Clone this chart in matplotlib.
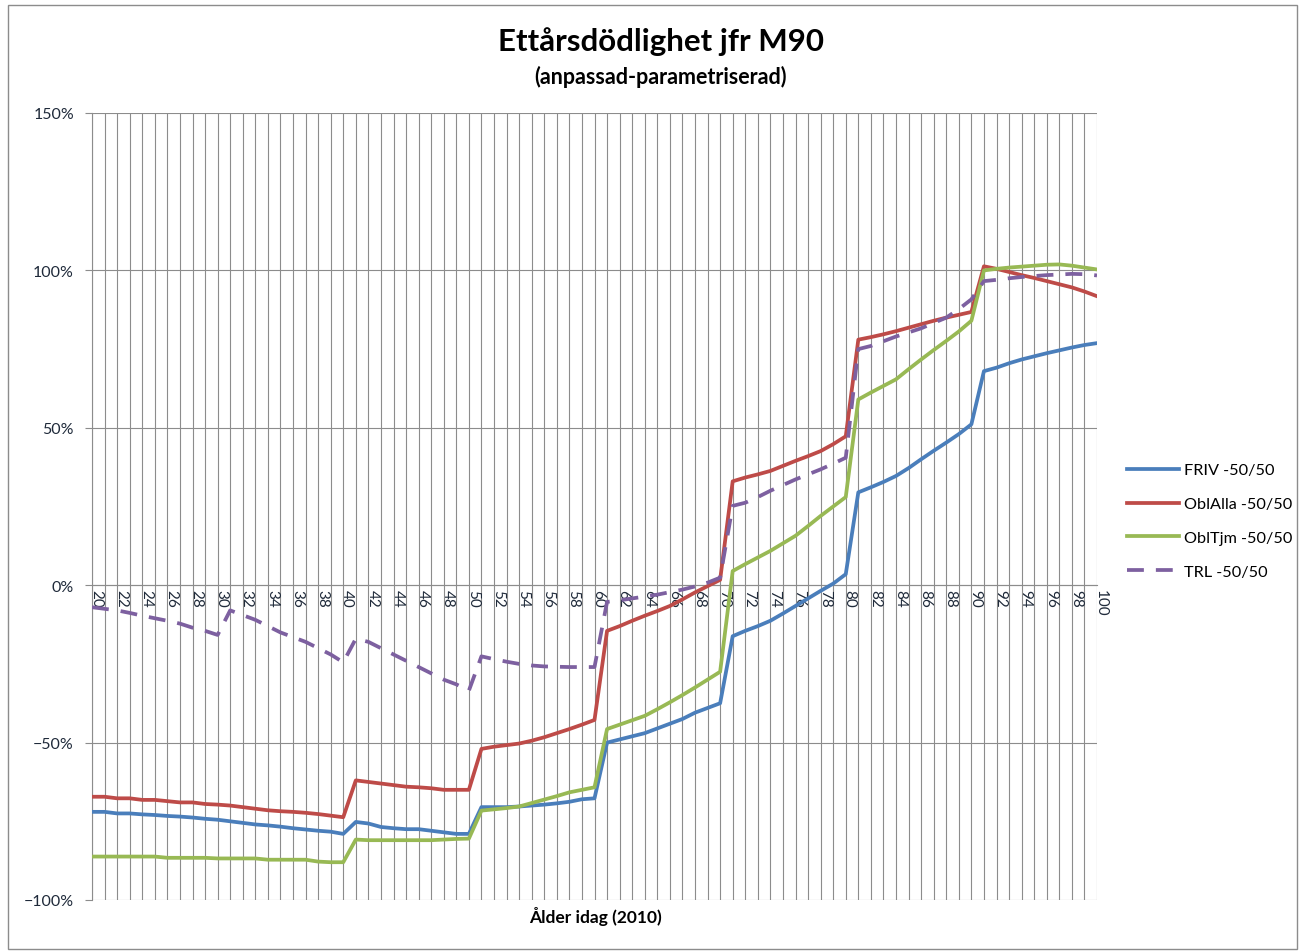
import matplotlib
matplotlib.use("Agg")
import matplotlib.pyplot as plt
from matplotlib.patches import Rectangle
from matplotlib.ticker import PercentFormatter
from matplotlib.transforms import ScaledTranslation

plt.rcParams['font.family'] = ['Lato', 'DejaVu Sans']

ages = list(range(20, 101))

friv = [-0.720, -0.720, -0.725, -0.725, -0.728, -0.730, -0.733, -0.735, -0.738, -0.742, -0.745,
        -0.750, -0.755, -0.760, -0.763, -0.767, -0.772, -0.776, -0.780, -0.783, -0.790,
        -0.752, -0.757, -0.768, -0.772, -0.775, -0.775, -0.780, -0.785, -0.790, -0.790,
        -0.705, -0.705, -0.705, -0.703, -0.700, -0.697, -0.693, -0.688, -0.680, -0.677,
        -0.500, -0.490, -0.480, -0.470, -0.455, -0.440, -0.425, -0.405, -0.390, -0.375,
        -0.162, -0.145, -0.130, -0.113, -0.090, -0.066, -0.042, -0.018, 0.005, 0.035,
        0.295, 0.311, 0.328, 0.347, 0.372, 0.400, 0.427, 0.453, 0.480, 0.511,
        0.680, 0.691, 0.705, 0.717, 0.727, 0.737, 0.746, 0.755, 0.763, 0.769]

oblalla = [-0.672, -0.672, -0.677, -0.677, -0.682, -0.682, -0.686, -0.690, -0.690, -0.695, -0.697,
           -0.700, -0.705, -0.710, -0.715, -0.718, -0.720, -0.723, -0.727, -0.732, -0.737,
           -0.620, -0.625, -0.630, -0.635, -0.640, -0.642, -0.645, -0.650, -0.650, -0.650,
           -0.520, -0.513, -0.508, -0.503, -0.494, -0.483, -0.470, -0.457, -0.443, -0.428,
           -0.145, -0.130, -0.113, -0.097, -0.082, -0.066, -0.045, -0.023, -0.003, 0.017,
           0.330, 0.342, 0.352, 0.363, 0.379, 0.395, 0.410, 0.426, 0.448, 0.473,
           0.780, 0.788, 0.797, 0.807, 0.818, 0.829, 0.840, 0.850, 0.859, 0.868,
           1.013, 1.005, 0.995, 0.985, 0.976, 0.966, 0.956, 0.946, 0.933, 0.918]

obltjm = [-0.862, -0.862, -0.862, -0.862, -0.862, -0.862, -0.866, -0.866, -0.866, -0.866,
          -0.868, -0.868, -0.868, -0.868, -0.872, -0.872, -0.872, -0.872, -0.878, -0.880, -0.880,
          -0.808, -0.810, -0.810, -0.810, -0.810, -0.810, -0.810, -0.808, -0.806, -0.805,
          -0.716, -0.712, -0.708, -0.703, -0.692, -0.681, -0.670, -0.658, -0.650, -0.642,
          -0.457, -0.443, -0.429, -0.415, -0.394, -0.372, -0.349, -0.325, -0.300, -0.275,
          0.045, 0.067, 0.088, 0.109, 0.133, 0.157, 0.188, 0.220, 0.250, 0.280,
          0.590, 0.612, 0.633, 0.654, 0.686, 0.717, 0.747, 0.776, 0.806, 0.840,
          1.000, 1.005, 1.009, 1.012, 1.015, 1.018, 1.019, 1.015, 1.009, 1.003]

trl = [-0.070, -0.075, -0.080, -0.088, -0.097, -0.105, -0.113, -0.122, -0.135, -0.145, -0.158,
       -0.080, -0.095, -0.110, -0.130, -0.150, -0.165, -0.180, -0.200, -0.220, -0.245,
       -0.170, -0.180, -0.200, -0.220, -0.240, -0.260, -0.280, -0.300, -0.315, -0.335,
       -0.226, -0.235, -0.243, -0.250, -0.255, -0.258, -0.259, -0.260, -0.260, -0.260,
       -0.053, -0.048, -0.042, -0.036, -0.030, -0.022, -0.014, -0.004, 0.008, 0.024,
       0.252, 0.262, 0.280, 0.300, 0.318, 0.336, 0.352, 0.368, 0.386, 0.405,
       0.750, 0.760, 0.775, 0.790, 0.803, 0.816, 0.833, 0.850, 0.877, 0.908,
       0.966, 0.970, 0.975, 0.979, 0.982, 0.985, 0.987, 0.989, 0.988, 0.984]

series = [
    ("FRIV -50/50", friv, "#4A7EBB", "-"),
    ("OblAlla -50/50", oblalla, "#BE4B48", "-"),
    ("OblTjm -50/50", obltjm, "#98B954", "-"),
    ("TRL -50/50", trl, "#7D60A0", "--"),
]

fig = plt.figure(figsize=(12.99, 9.53), dpi=100)
ax = fig.add_axes([92 / 1299, 1 - 901 / 953, (1097 - 92) / 1299, (901 - 114) / 953])

grid_color = "#8c8c8c"
for a in ages:
    ax.axvline(a, color=grid_color, lw=0.8, zorder=0)
for yv in [-1.0, -0.5, 0.0, 0.5, 1.0, 1.5]:
    ax.axhline(yv, color=grid_color, lw=0.8, zorder=0)

handles = []
for name, vals, color, ls in series:
    if ls == "--":
        line, = ax.plot(ages, vals, color=color, lw=2.7, dashes=(4.5, 3.2), label=name,
                        solid_capstyle="butt", zorder=3)
    else:
        line, = ax.plot(ages, vals, color=color, lw=2.7, label=name, zorder=3)
    handles.append(line)

ax.set_xlim(20, 100)
ax.set_ylim(-1.0, 1.5)
ax.set_yticks([-1.0, -0.5, 0.0, 0.5, 1.0, 1.5])
ax.yaxis.set_major_formatter(PercentFormatter(1.0, decimals=0))

ax.spines['bottom'].set_position(('data', 0))
for side in ['top', 'right']:
    ax.spines[side].set_visible(False)
ax.spines['left'].set_color(grid_color)
ax.spines['bottom'].set_color(grid_color)

ax.set_xticks(ages)
ax.set_xticklabels([str(a) if a % 2 == 0 else "" for a in ages], rotation=270,
                   fontsize=11, color="#1f2a3a")
ax.tick_params(axis='x', length=0, pad=3)
ax.tick_params(axis='y', length=5, color=grid_color, labelsize=11.5, labelcolor="#1f2a3a", pad=8)
# Excel nudges the rotated category labels a little to the right of the gridline
shift = ScaledTranslation(4 / 100, 0, fig.dpi_scale_trans)
for lbl in ax.get_xticklabels():
    lbl.set_transform(lbl.get_transform() + shift)

fig.text(661 / 1299, 1 - 42 / 953, "Ettårsdödlighet jfr M90", ha="center", va="center",
         fontsize=22.5, fontweight="bold")
fig.text(660 / 1299, 1 - 77 / 953, "(anpassad-parametriserad)", ha="center", va="center",
         fontsize=15.5, fontweight="bold")
fig.text(595 / 1299, 1 - 917 / 953, "Ålder idag (2010)", ha="center", va="center",
         fontsize=12.5, fontweight="bold")

fig.legend(handles=handles, loc="center left", bbox_to_anchor=(1112 / 1299, 1 - 522 / 953),
           frameon=False, fontsize=11.7, handlelength=3.2, labelspacing=1.2, handletextpad=0.3)

fig.patches.append(Rectangle((8 / 1299, 1 - 950 / 953), 1289 / 1299, 944 / 953,
                             transform=fig.transFigure, fill=False, edgecolor="#8c8c8c", lw=1))

fig.savefig("out.png", dpi=100)
